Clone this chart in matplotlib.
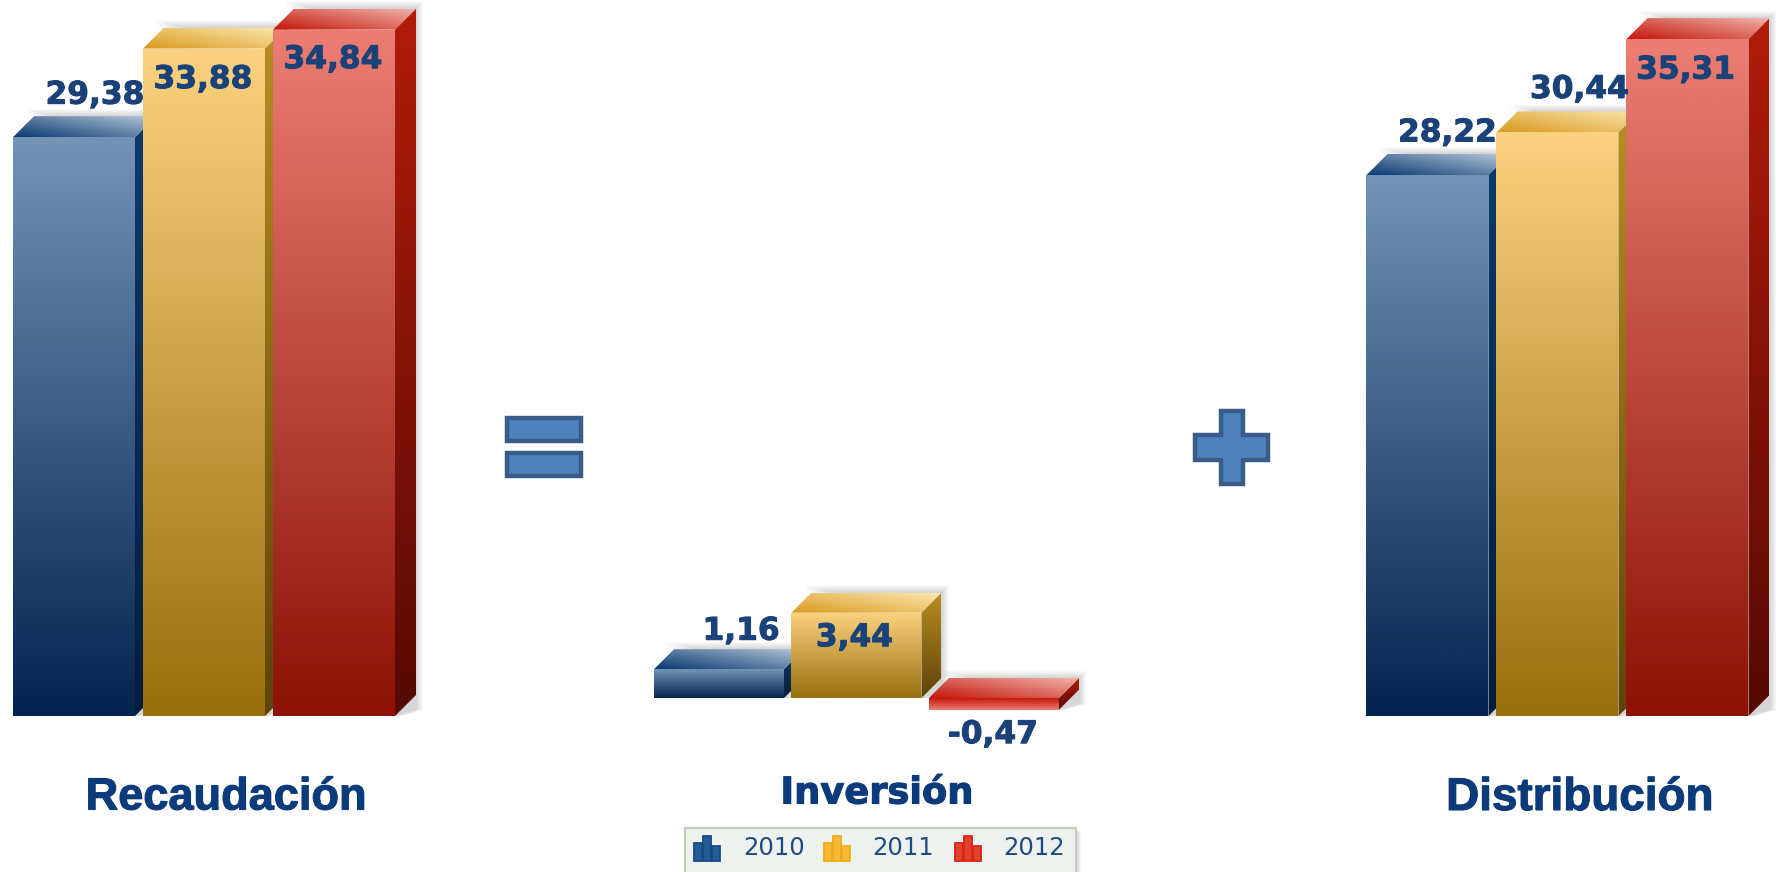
#!/usr/bin/env python3
"""Recaudacion = Inversion + Distribucion, fake 3D bars per year."""
import numpy as np
import matplotlib
matplotlib.use("Agg")
import matplotlib.pyplot as plt
import matplotlib.patheffects as pe
from matplotlib.colors import LinearSegmentedColormap
from matplotlib.patches import Polygon, Rectangle

W, H = 1781, 872

years = ["2010", "2011", "2012"]
recaudacion = [29.38, 33.88, 34.84]
inversion = [1.16, 3.44, -0.47]
distribucion = [28.22, 30.44, 35.31]
titles = ["Recaudación", "Inversión", "Distribución"]

# front top, front bottom, side top, side bottom, top dark, top light
BLUE = ["#7093b6", "#02244f", "#0b3a6e", "#011d3d", "#0a3a72", "#b4c6d8"]
GOLD = ["#fad27f", "#98700f", "#b98d22", "#5f4409", "#d89c22", "#fde6ad"]
RED = ["#eb7d72", "#8e1206", "#b21c0b", "#560a04", "#c4180a", "#f0b0a8"]
bar_colors = [BLUE, GOLD, RED]
icon_colors = ["#144a85", "#f0ab1c", "#d92616"]
icon_light = ["#245a96", "#f6b933", "#e4402e"]
TEXT = "#1a4279"
TITLE = "#0c3b7c"

# label offset from the bar top (px, up is positive)
offs_rec = [(21, 42), (-1, -31), (-1, -30)]
offs_inv = [(22, 38), (-2, -25), (-1, -25)]
offs_dis = [(20, 42), (22, 43), (-2, -31)]


def grad(ax, poly, extent, arr, c0, c1):
    cmap = LinearSegmentedColormap.from_list("g", [c0, c1])
    im = ax.imshow(arr, extent=extent, cmap=cmap, vmin=0, vmax=1, aspect="auto",
                   origin="upper", zorder=2, interpolation="bilinear")
    im.set_clip_path(Polygon(poly, closed=True, transform=ax.transData))


def bar3d(ax, x, val, w, dx, dy, c, pxx, pxy):
    l, r = x - w / 2, x + w / 2
    top, bot = max(val, 0), min(val, 0)

    # soft shadow, up and to the right of the box
    for k in range(7, 0, -1):
        ex, ey = k * pxx, k * pxy
        sh = [(l + dx * .6, top + dy + ey), (r + dx + ex, top + dy + ey),
              (r + dx + ex, bot + dy * .3), (r + ex, bot), (r, bot), (r, top)]
        ax.add_patch(Polygon(sh, closed=True, fc="#404040", ec="none", alpha=0.03, zorder=2))

    # side
    side = [(r, top), (r + dx, top + dy), (r + dx, bot + dy), (r, bot)]
    v = np.linspace(0, 1, 64).reshape(-1, 1)
    grad(ax, side, (r, r + dx, bot, top + dy), v, c[2], c[3])

    # top
    face = [(l, top), (l + dx, top + dy), (r + dx, top + dy), (r, top)]
    xx, yy = np.meshgrid(np.linspace(0, 1, 64), np.linspace(1, 0, 16))
    grad(ax, face, (l, r + dx, top, top + dy), 0.55 * xx + 0.45 * yy, c[4], c[5])

    # front, negative bars run the other way
    front = [(l, top), (r, top), (r, bot), (l, bot)]
    c0, c1 = (c[0], c[1]) if val >= 0 else (c[4], c[0])
    grad(ax, front, (l, r, bot, top), v, c0, c1)


def panel(fig, values, offs, first_px, pitch_px, width_px, base_px, scale, depth_px):
    # axes covers the whole figure, scales tie bar index/value to pixels
    ax = fig.add_axes([0, 0, 1, 1], facecolor="none")
    ax.set_xlim(-first_px / pitch_px, (W - first_px) / pitch_px)
    ax.set_ylim(-(H - base_px) / scale, base_px / scale)
    ax.set_autoscale_on(False)
    ax.axis("off")
    pxx, pxy = 1 / pitch_px, 1 / scale
    for i, val in enumerate(values):
        bar3d(ax, i, val, width_px * pxx, depth_px * pxx, depth_px * pxy, bar_colors[i], pxx, pxy)
    for i, val in enumerate(values):
        ax.annotate(f"{val:.2f}".replace(".", ","), xy=(i, val), xytext=offs[i],
                    textcoords="offset pixels", ha="center", va="center",
                    fontsize=22.5, fontweight="bold", color=TEXT, zorder=5,
                    family="DejaVu Sans",
                    path_effects=[pe.withStroke(linewidth=0.7, foreground=TEXT)])


fig = plt.figure(figsize=(W / 100, H / 100), dpi=100, facecolor="white")

panel(fig, recaudacion, offs_rec, 74, 130, 122, 716, 19.7, 21)
panel(fig, inversion, offs_inv, 719, 137.5, 130, 698, 24.8, 20)
panel(fig, distribucion, offs_dis, 1427.5, 130, 122, 716, 19.17, 21)

# overlay in pixel coords: titles, operators, legend
ov = fig.add_axes([0, 0, 1, 1], facecolor="none")
ov.set_xlim(0, W)
ov.set_ylim(H, 0)
ov.axis("off")

stroke = [pe.withStroke(linewidth=0.8, foreground=TITLE)]
ov.text(226, 798, titles[0], ha="center", va="center", fontsize=32.5, fontweight="bold",
        color=TITLE, family="Liberation Sans", path_effects=stroke)
ov.text(877, 793, titles[1], ha="center", va="center", fontsize=26.5, fontweight="bold",
        color=TITLE, family="DejaVu Sans", path_effects=stroke)
ov.text(1580, 798, titles[2], ha="center", va="center", fontsize=33, fontweight="bold",
        color=TITLE, family="Liberation Sans", path_effects=stroke)

op = dict(fc="#4f81bd", ec="#385d8a", lw=3.2, joinstyle="miter")
ov.add_patch(Rectangle((507, 418), 74, 23, **op))
ov.add_patch(Rectangle((507, 453), 74, 23, **op))
ov.add_patch(Polygon([(1221, 411), (1243, 411), (1243, 435), (1268, 435), (1268, 460), (1243, 460),
                      (1243, 484), (1221, 484), (1221, 460), (1195, 460), (1195, 435), (1221, 435)],
                     closed=True, **op))

# legend
for k in range(5, 0, -1):
    ov.add_patch(Rectangle((688, 831), 388 + k, 41, fc="#505050", ec="none", alpha=0.05))
ov.add_patch(Rectangle((685, 828), 391, 46, fc="#eef2ee", ec="#c3cfb8", lw=1.5))
for icon_x, text_x, year, col, light in zip([694, 824, 955], [743, 872, 1003], years,
                                            icon_colors, icon_light):
    for bx, bh in zip([0, 9, 18], [18, 25, 15]):
        ov.add_patch(Rectangle((icon_x + bx, 861 - bh), 8, bh, fc=light, ec=col, lw=1.3))
    ov.text(text_x, 848, year, ha="left", va="center", fontsize=17.5, color="#1f4a80",
            family="DejaVu Sans")

fig.savefig("out.png", dpi=100)
